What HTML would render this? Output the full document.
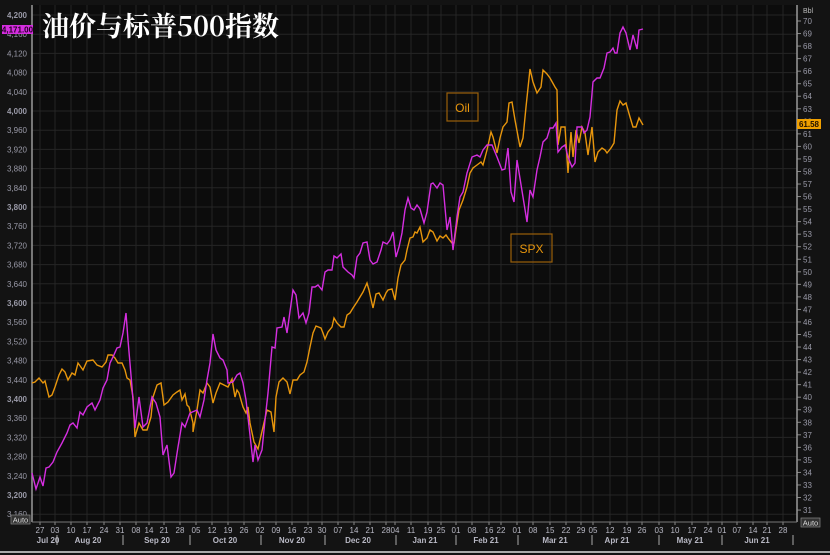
<!DOCTYPE html>
<html><head><meta charset="utf-8"><style>
html,body{margin:0;padding:0;background:#111;}
svg{display:block;font-family:"Liberation Sans",sans-serif;}
</style></head><body>
<svg id="s" width="830" height="555" xmlns="http://www.w3.org/2000/svg">
<rect width="830" height="555" fill="#131313"/>
<rect x="32" y="5" width="765" height="517" fill="#0c0c0c"/>
<g id="grid" stroke="#252525" stroke-width="1"></g>
<g id="lt" fill="#9a9aa8" font-size="8" text-anchor="end"></g>
<g id="rt" fill="#9a9aa8" font-size="8"></g>
<g id="xt" fill="#b8b8c4" font-size="8" text-anchor="middle"></g>
<line x1="32" y1="5" x2="32" y2="522" stroke="#999" stroke-width="1.5"/>
<line x1="797" y1="5" x2="797" y2="522" stroke="#999" stroke-width="1.5"/>
<line x1="32" y1="522" x2="797" y2="522" stroke="#777" stroke-width="1"/>
<line x1="0" y1="552" x2="830" y2="552" stroke="#aaa" stroke-width="2"/>
<polyline id="oil" fill="none" stroke="#e8960c" stroke-width="1.4"/>
<polyline id="spx" fill="none" stroke="#d52ee0" stroke-width="1.4"/>
<text x="42" y="36" fill="#fff" font-size="27" font-weight="bold" font-family="'Noto Serif CJK SC','Liberation Serif',serif">油价与标普500指数</text>
<rect x="447" y="93" width="31" height="28" fill="none" stroke="#9a5f0a" stroke-width="1.2"/>
<text x="462.5" y="112" fill="#e8960c" font-size="12" text-anchor="middle">Oil</text>
<rect x="511" y="234" width="41" height="28" fill="none" stroke="#9a5f0a" stroke-width="1.2"/>
<text x="531.5" y="253" fill="#e8960c" font-size="12" text-anchor="middle">SPX</text>
<rect x="2" y="25" width="31" height="9" fill="#d52ee0"/>
<text x="17.5" y="32.5" fill="#220022" font-size="8" font-weight="bold" text-anchor="middle">4,171.00</text>
<rect x="797" y="119" width="24" height="10" fill="#f0a000"/>
<text x="809" y="127" fill="#221100" font-size="8" font-weight="bold" text-anchor="middle">61.58</text>
<text x="803" y="13" fill="#bbb" font-size="7">Bbl</text>
<rect x="11" y="515" width="19" height="9" fill="#333" stroke="#888" stroke-width="0.7"/>
<text x="20.5" y="522.5" fill="#ddd" font-size="7.5" text-anchor="middle">Auto</text>
<rect x="801" y="518" width="19" height="9" fill="#333" stroke="#888" stroke-width="0.7"/>
<text x="810.5" y="525.5" fill="#ddd" font-size="7.5" text-anchor="middle">Auto</text>
</svg>
<script>
var NS="http://www.w3.org/2000/svg";
function el(p,t,a,txt){var e=document.createElementNS(NS,t);for(var k in a)e.setAttribute(k,a[k]);if(txt!==undefined)e.textContent=txt;document.getElementById(p).appendChild(e);}
for(var v=3160;v<=4200;v+=40){var y=15+(4200-v)*0.48;el("grid","line",{x1:32,y1:y,x2:797,y2:y});
el("lt","text",{x:27,y:y+3,"font-weight":(v%200==0?"bold":"normal")},(v/1000|0)+","+String(v%1000).padStart(3,"0"));}
for(var v=31;v<=70;v++){var y=21+(70-v)*12.54;el("rt","text",{x:803,y:y+3},v);el("rt","line",{x1:797,y1:y,x2:801,y2:y,stroke:"#888"});}
var days=[[40,"27"],[55,"03"],[71,"10"],[87,"17"],[104,"24"],[120,"31"],[136,"08"],[149,"14"],[164,"21"],[180,"28"],[196,"05"],[212,"12"],[228,"19"],[244,"26"],[260,"02"],[276,"09"],[292,"16"],[308,"23"],[322,"30"],[338,"07"],[354,"14"],[370,"21"],[386,"28"],[395,"04"],[411,"11"],[428,"19"],[441,"25"],[456,"01"],[472,"08"],[489,"16"],[501,"22"],[517,"01"],[533,"08"],[550,"15"],[566,"22"],[581,"29"],[593,"05"],[610,"12"],[627,"19"],[642,"26"],[659,"03"],[675,"10"],[692,"17"],[708,"24"],[722,"01"],[737,"07"],[753,"14"],[767,"21"],[783,"28"]];
days.forEach(function(d){el("grid","line",{x1:d[0],y1:5,x2:d[0],y2:522});el("xt","text",{x:d[0],y:533},d[1]);el("xt","line",{x1:d[0],y1:522,x2:d[0],y2:525,stroke:"#888"});});
var mon=[[48,"Jul 20"],[88,"Aug 20"],[157,"Sep 20"],[225,"Oct 20"],[292,"Nov 20"],[358,"Dec 20"],[425,"Jan 21"],[486,"Feb 21"],[555,"Mar 21"],[617,"Apr 21"],[690,"May 21"],[757,"Jun 21"]];
mon.forEach(function(m){el("xt","text",{x:m[0],y:543,"font-weight":"bold"},m[1]);});
[57,123,190,261,325,396,456,518,592,659,722,793].forEach(function(x){el("xt","line",{x1:x,y1:535,x2:x,y2:545,stroke:"#aaa"});});
var oil="32,383 35,382 39,378 43,383 45,381 49,397 52,395 55,387 59,375 62,369 65,372 68,380 72,373 75,375 78,363 83,370 87,361 93,360 97,365 102,367 106,362 108,355 112,355 115,358 118,363 122,363 125,370 127,378 130,380 133,397 135,437 139,423 143,430 147,430 151,417 153,397 157,385 161,383 164,405 168,402 173,395 177,392 180,390 182,400 185,394 187,405 189,407 193,423 193,432 197,410 200,390 203,393 207,383 210,387 213,403 216,393 220,383 224,385 228,387 232,379 235,397 237,390 239,393 243,407 246,413 248,407 250,423 254,442 258,449 263,427 267,410 271,412 274,432 276,397 279,382 283,378 287,382 290,394 293,380 297,380 300,375 304,372 307,362 310,347 313,333 316,326 321,328 323,333 325,339 328,332 332,327 334,318 337,323 341,327 344,327 347,315 350,313 353,308 357,302 360,297 363,292 367,283 369,290 373,308 376,294 379,293 383,300 386,293 388,290 392,289 395,300 398,278 401,265 405,260 407,250 410,238 413,237 415,232 417,233 420,227 423,242 427,238 430,230 433,232 437,241 440,236 443,238 446,235 448,238 452,243 454,243 457,223 459,210 463,200 467,187 470,173 473,168 477,165 481,162 483,165 487,150 491,132 493,137 497,153 500,138 503,127 507,122 509,103 512,102 515,120 520,147 523,138 526,107 530,69 533,82 537,93 541,87 543,70 547,74 550,78 555,87 557,90 558,145 561,127 565,127 568,173 571,132 573,157 576,130 579,143 582,127 585,133 588,155 592,127 595,162 598,152 602,148 605,150 607,153 611,148 614,143 617,110 620,101 623,105 626,103 630,117 633,127 636,127 639,118 643,125";
var spx="32,473 36,489 40,477 43,486 46,468 49,467 53,462 57,452 62,443 67,433 70,425 73,423 77,428 80,412 83,415 87,407 92,403 95,410 100,400 103,388 107,380 110,363 113,357 117,348 120,347 123,333 126,313 128,340 132,387 135,428 139,397 143,427 147,423 152,397 156,403 160,417 163,455 167,445 171,477 174,473 178,447 182,423 185,427 190,413 197,410 200,417 204,400 207,380 210,363 213,334 216,350 220,358 223,360 227,370 228,383 233,382 237,375 240,373 243,383 246,400 250,435 253,462 255,445 258,460 262,450 265,420 268,393 272,347 275,348 277,328 282,327 284,317 287,333 293,290 296,295 299,318 303,313 306,323 309,313 312,287 315,287 318,285 322,290 325,272 328,270 332,270 334,256 337,258 341,254 343,267 348,272 352,275 354,278 357,257 360,253 363,243 367,242 370,260 373,264 377,262 381,250 383,242 387,244 390,240 393,232 396,257 399,247 402,233 405,210 408,198 411,208 414,210 417,205 420,209 424,223 427,212 431,184 433,183 437,188 440,183 443,185 447,230 450,217 453,250 457,217 460,197 463,192 467,173 472,157 477,155 480,157 483,150 487,145 492,145 497,157 502,170 505,169 508,148 511,192 514,202 517,160 523,197 527,222 530,190 533,197 537,170 540,157 543,142 547,138 550,128 553,128 556,123 558,152 562,147 565,145 568,157 572,167 575,163 577,127 582,127 584,133 587,130 590,117 593,82 597,78 600,78 604,68 607,53 610,52 613,48 615,53 617,53 620,33 623,27 626,33 630,50 633,35 637,49 639,30 643,29";
document.getElementById("oil").setAttribute("points",oil);
document.getElementById("spx").setAttribute("points",spx);
</script>
</body></html>
